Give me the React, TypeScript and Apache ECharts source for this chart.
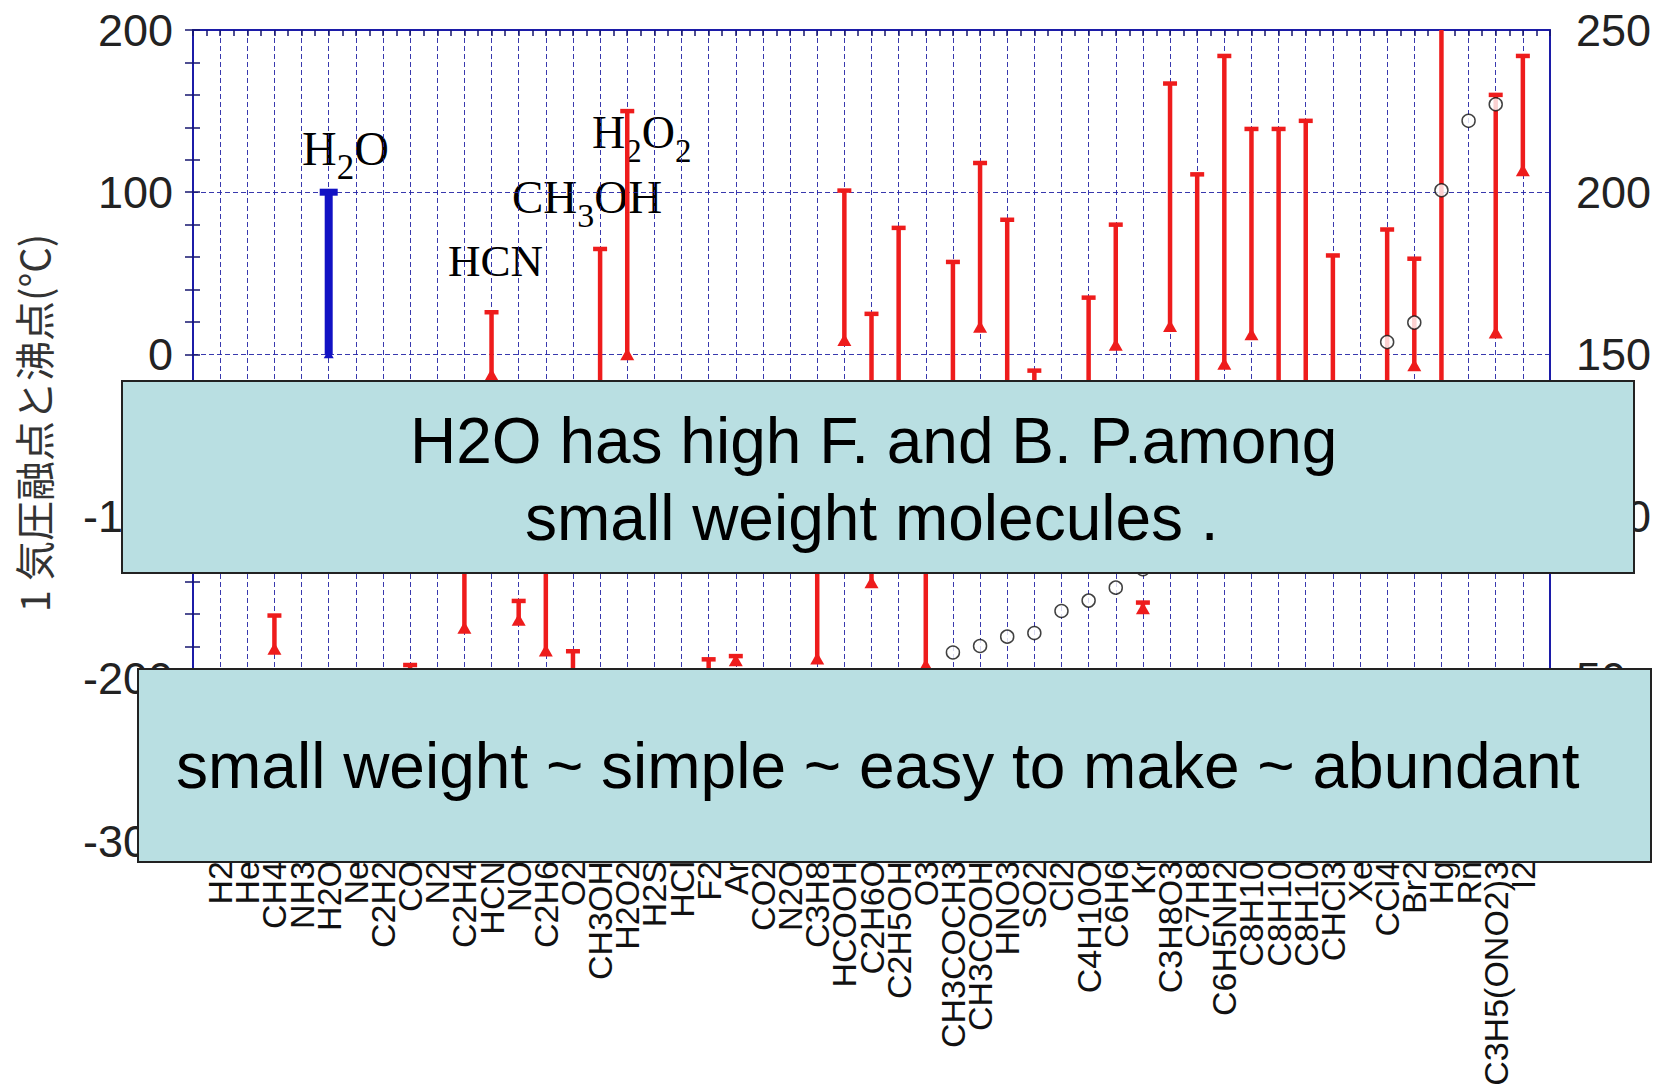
import React, { useEffect, useRef } from 'react';
import * as echarts from 'echarts';

// ---------- data ----------
const categories = [
  'H2', 'He', 'CH4', 'NH3', 'H2O', 'Ne', 'C2H2', 'CO', 'N2', 'C2H4',
  'HCN', 'NO', 'C2H6', 'O2', 'CH3OH', 'H2O2', 'H2S', 'HCl', 'F2', 'Ar',
  'CO2', 'N2O', 'C3H8', 'HCOOH', 'C2H6O', 'C2H5OH', 'O3', 'CH3COCH3', 'CH3COOH', 'HNO3',
  'SO2', 'Cl2', 'C4H10O', 'C6H6', 'Kr', 'C3H8O3', 'C7H8', 'C6H5NH2', 'C8H10', 'C8H10',
  'C8H10', 'CHCl3', 'Xe', 'CCl4', 'Br2', 'Hg', 'Rn', 'C3H5(ONO2)3', 'I2',
];
// melting point (°C) at 1 atm
const meltingPoints = [
  -259, -272, -182, -78, 0, -249, -81, -205, -210, -169,
  -13, -164, -183, -218, -98, -0.4, -86, -114, -220, -189,
  -57, -91, -188, 8.4, -141, -114, -192, -95, 16.6, -42,
  -72, -101, -116, 5.5, -157, 17, -95, -6.3, 12, -48,
  -25, -63.5, -112, -23, -7.2, -38.8, -71, 13, 113,
];
// boiling point (°C) at 1 atm
const boilingPoints = [
  -253, -269, -161, -33, 100, -246, -84, -191.5, -196, -104,
  26, -152, -89, -183, 65, 150, -60, -85, -188, -186,
  -78.5, -88.5, -42, 101, 25, 78, -112, 57, 118, 83,
  -10, -34, 35, 80, -153, 167, 111, 184, 139, 139,
  144, 61, -108, 77, 59, 357, -62, 160, 184,
];
// molecular weight (right axis)
const molecularWeights = [
  2.0, 4.0, 16.0, 17.0, 18.0, 20.2, 26.0, 28.0, 28.0, 28.1,
  27.0, 30.0, 30.1, 32.0, 32.0, 34.0, 34.1, 36.5, 38.0, 39.9,
  44.0, 44.0, 44.1, 46.0, 46.1, 46.1, 48.0, 58.1, 60.1, 63.0,
  64.1, 70.9, 74.1, 78.1, 83.8, 92.1, 92.1, 93.1, 106.2, 106.2,
  106.2, 119.4, 131.3, 153.8, 159.8, 200.6, 222, 227.1, 253.8,
];
const tempAxis = { min: -300, max: 200, step: 100, minorStep: 20 };
const weightAxis = { min: 0, max: 250, step: 50, minorStep: 10 };
const highlighted = 'H2O';

const yAxisTitle = '1 気圧融点と沸点(°C)';
const boxText1 = ['H2O has high F. and B. P.among', 'small weight molecules .'];
const boxText2 = 'small weight ~ simple ~ easy to make ~ abundant';
const labelParts: [string, boolean][][] = [
  [['H', false], ['2', true], ['O', false]],
  [['HCN', false]],
  [['CH', false], ['3', true], ['OH', false]],
  [['H', false], ['2', true], ['O', false], ['2', true]],
];

// ---------- layout (pixels) ----------
const W = 1658, H = 1091;
const GRID = { left: 193, top: 30, right: 1550, bottom: 841 };
const labelPos = [
  { x: 302, y: 165, size: 48 },
  { x: 448, y: 276, size: 45 },
  { x: 512, y: 213, size: 47 },
  { x: 592, y: 148, size: 46 },
];

const RED = '#ee1c1c';
const BLUE = '#1212c4';
const FRAME = '#1c1ca8';
const TICK = '#14146e';
const GRIDC = 'rgba(35,35,165,0.9)';

function measure(text: string, size: number, family: string) {
  const c = document.createElement('canvas').getContext('2d')!;
  c.font = `${size}px ${family}`;
  return c.measureText(text).width;
}

function formulaGroup(parts: [string, boolean][], x: number, baseline: number, size: number) {
  const fam = '"Liberation Serif", "Times New Roman", serif';
  const sub = Math.round(size * 0.72);
  let cx = 0;
  const children: any[] = [];
  parts.forEach(([t, isSub]) => {
    const fs = isSub ? sub : size;
    const by = isSub ? 14 : 0;
    children.push({
      type: 'text',
      x: cx,
      y: by - 0.3375 * fs,
      style: { text: t, fontSize: fs, fontFamily: fam, fill: '#000', align: 'left', verticalAlign: 'middle' },
    });
    cx += measure(t, fs, fam);
  });
  return { type: 'group', x, y: baseline, z: 90, children };
}

function makeRange(color: string, lw: number, capW: number, capLw: number, tri: number) {
  return (params: any, api: any) => {
    const x = api.value(0);
    const lo = api.coord([x, api.value(1)]);
    const hi = api.coord([x, api.value(2)]);
    return {
      type: 'group',
      children: [
        { type: 'line', shape: { x1: lo[0], y1: lo[1], x2: hi[0], y2: hi[1] }, style: { stroke: color, lineWidth: lw } },
        { type: 'line', shape: { x1: hi[0] - capW / 2, y1: hi[1], x2: hi[0] + capW / 2, y2: hi[1] }, style: { stroke: color, lineWidth: capLw } },
        {
          type: 'polygon',
          shape: { points: [[lo[0], lo[1] - tri], [lo[0] - tri, lo[1] + tri * 0.75], [lo[0] + tri, lo[1] + tri * 0.75]] },
          style: { fill: color },
        },
      ],
    };
  };
}

function tickAxis(position: 'left' | 'right', ax: { min: number; max: number; minorStep: number }, len: number) {
  return {
    type: 'value',
    position,
    min: ax.min,
    max: ax.max,
    interval: ax.minorStep,
    axisLine: { show: true, lineStyle: { color: FRAME, width: 2 } },
    axisTick: { show: true, inside: true, length: len, lineStyle: { color: TICK, width: 1.5 } },
    axisLabel: { show: false },
    splitLine: { show: false },
  };
}

export default function App() {
  const ref = useRef<HTMLDivElement>(null);
  useEffect(() => {
    if (!ref.current) return;
    const chart = echarts.init(ref.current, undefined, { renderer: 'svg' });

    const redData: number[][] = [];
    const blueData: number[][] = [];
    categories.forEach((c, i) => {
      const row = [i + 1, meltingPoints[i], boilingPoints[i]];
      if (c === highlighted) blueData.push(row);
      else redData.push(row);
    });
    const weightData = molecularWeights.map((w, i) => [i + 1, w]);

    const sansFam = '"Liberation Sans", Arial, sans-serif';
    const boxFont = 64;
    const central = 0.3465 * boxFont;

    chart.setOption({
      animation: false,
      backgroundColor: '#ffffff',
      textStyle: { fontFamily: sansFam },
      grid: { left: GRID.left, top: GRID.top, right: W - GRID.right, bottom: H - GRID.bottom, containLabel: false },
      xAxis: [
        {
          type: 'value',
          position: 'bottom',
          min: 0,
          max: categories.length + 1,
          interval: 1,
          axisLine: { show: true, onZero: false, lineStyle: { color: FRAME, width: 2 } },
          axisTick: { show: false },
          axisLabel: {
            rotate: 90,
            margin: 20,
            fontSize: 34,
            color: '#111',
            fontFamily: sansFam,
            formatter: (v: number) => categories[v - 1] ?? '',
          },
          splitLine: { show: true, lineStyle: { color: GRIDC, width: 1, type: [5, 3] } },
        },
        {
          type: 'value',
          position: 'top',
          min: 0,
          max: categories.length + 1,
          interval: 0.5,
          axisLine: { show: true, onZero: false, lineStyle: { color: FRAME, width: 2 } },
          axisTick: { show: true, inside: true, length: 6, lineStyle: { color: TICK, width: 1.5 } },
          axisLabel: { show: false },
          splitLine: { show: false },
        },
      ],
      yAxis: [
        {
          type: 'value',
          position: 'left',
          min: tempAxis.min,
          max: tempAxis.max,
          interval: tempAxis.step,
          axisLine: { show: true, onZero: false, lineStyle: { color: FRAME, width: 2 } },
          axisTick: { show: false },
          axisLabel: { fontSize: 45, color: '#222', margin: 20, fontFamily: sansFam },
          splitLine: { show: true, lineStyle: { color: GRIDC, width: 1, type: [5, 3] } },
        },
        {
          type: 'value',
          position: 'right',
          min: weightAxis.min,
          max: weightAxis.max,
          interval: weightAxis.step,
          axisLine: { show: true, onZero: false, lineStyle: { color: FRAME, width: 2 } },
          axisTick: { show: false },
          axisLabel: { fontSize: 45, color: '#222', margin: 26, fontFamily: sansFam },
          splitLine: { show: false },
        },
        tickAxis('left', tempAxis, 7),
        tickAxis('right', weightAxis, 8),
      ],
      series: [
        {
          type: 'custom',
          name: 'range',
          xAxisIndex: 0,
          yAxisIndex: 0,
          clip: true,
          encode: { x: 0, y: [1, 2] },
          data: redData,
          renderItem: makeRange(RED, 4.5, 14, 4.5, 7),
          z: 3,
        },
        {
          type: 'custom',
          name: 'water',
          xAxisIndex: 0,
          yAxisIndex: 0,
          clip: true,
          encode: { x: 0, y: [1, 2] },
          data: blueData,
          renderItem: makeRange(BLUE, 8, 18, 7, 5),
          z: 3,
        },
        {
          type: 'scatter',
          name: 'weight',
          xAxisIndex: 0,
          yAxisIndex: 1,
          clip: true,
          symbol: 'circle',
          symbolSize: 13,
          itemStyle: { color: '#ffffff', borderColor: '#111', borderWidth: 1.5 },
          data: weightData,
          z: 5,
        },
      ],
      graphic: [
        {
          type: 'text',
          x: 33,
          y: 423,
          rotation: Math.PI / 2,
          z: 50,
          style: {
            text: yAxisTitle,
            fontSize: 40,
            fontFamily: '"Noto Sans CJK JP", sans-serif',
            fill: '#333',
            align: 'center',
            verticalAlign: 'middle',
          },
        },
        ...labelParts.map((p, i) => formulaGroup(p, labelPos[i].x, labelPos[i].y, labelPos[i].size)),
        {
          type: 'rect',
          z: 100,
          shape: { x: 122, y: 381, width: 1512, height: 192 },
          style: { fill: '#b9dfe2', stroke: '#222', lineWidth: 2 },
        },
        {
          type: 'text',
          z: 101,
          x: 410,
          y: 463 - central,
          style: { text: boxText1[0], fontSize: boxFont, fontFamily: sansFam, fill: '#000', align: 'left', verticalAlign: 'middle' },
        },
        {
          type: 'text',
          z: 101,
          x: 525,
          y: 540 - central,
          style: { text: boxText1[1], fontSize: boxFont, fontFamily: sansFam, fill: '#000', align: 'left', verticalAlign: 'middle' },
        },
        {
          type: 'rect',
          z: 100,
          shape: { x: 138, y: 669, width: 1513, height: 193 },
          style: { fill: '#b9dfe2', stroke: '#222', lineWidth: 2 },
        },
        {
          type: 'text',
          z: 101,
          x: 176,
          y: 788 - central,
          style: { text: boxText2, fontSize: boxFont, fontFamily: sansFam, fill: '#000', align: 'left', verticalAlign: 'middle' },
        },
      ],
    });
    return () => chart.dispose();
  }, []);

  return (
    <div
      ref={ref}
      style={{ position: 'fixed', left: 0, top: 0, width: W, height: H, background: '#fff' }}
    />
  );
}
